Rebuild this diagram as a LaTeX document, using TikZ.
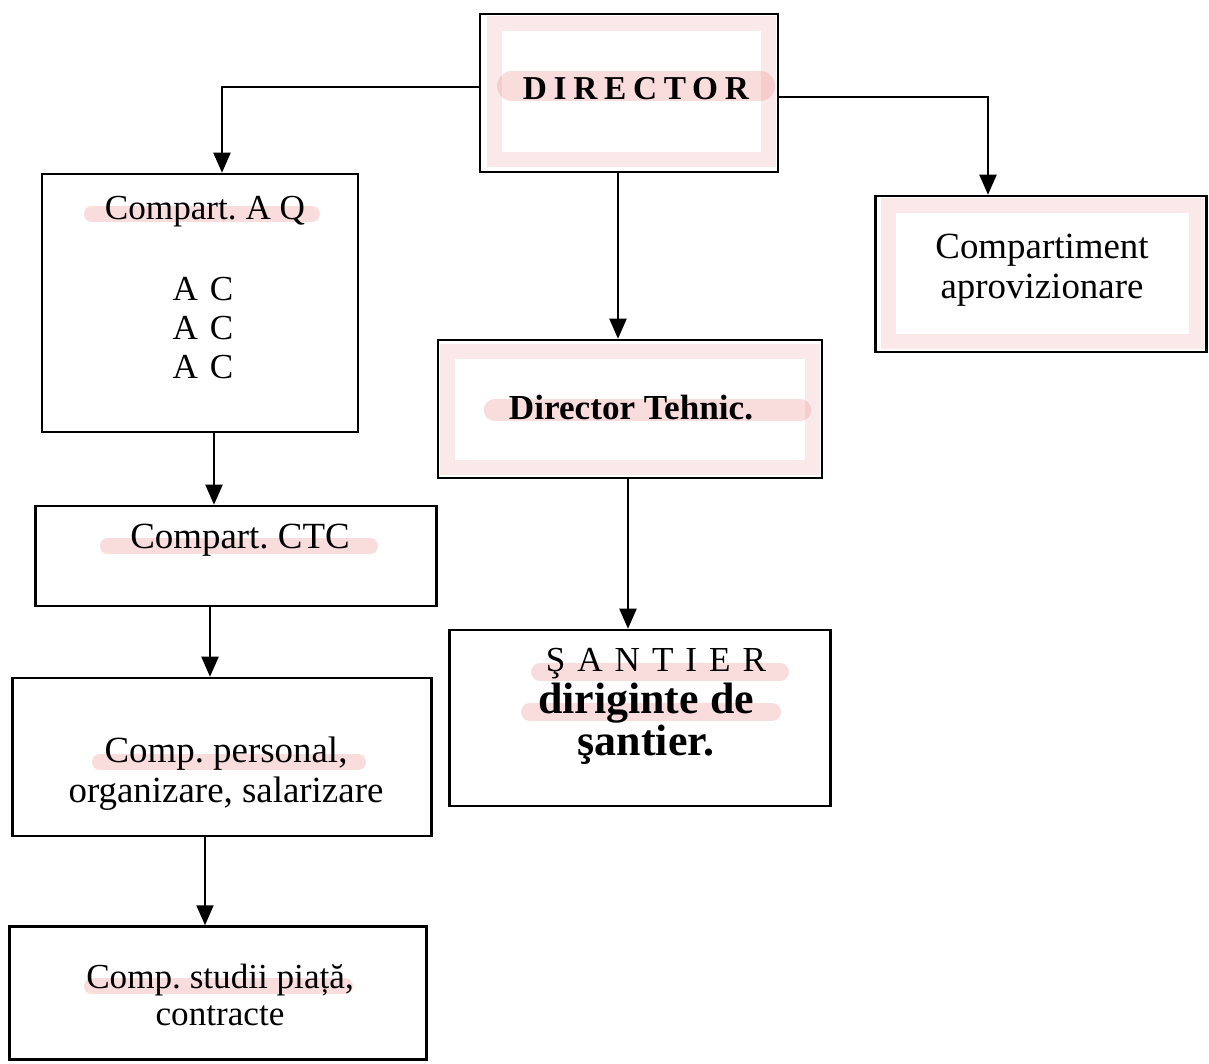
\documentclass[tikz,border=0pt]{standalone}
\usepackage{fontspec}
\setmainfont{Liberation Serif}
\usepackage{tikz}
\usetikzlibrary{arrows.meta}
\definecolor{hilite}{RGB}{236,140,140}
\frenchspacing

\tikzset{
  box/.style={draw, line width=0.5mm, rectangle, inner sep=0pt},
  txt/.style={font=\fontsize{20}{22}\selectfont, align=center, inner sep=0pt},
  pen/.style={hilite, opacity=0.3, line cap=round},
}

\begin{document}
\begin{tikzpicture}[x=0.2mm, y=-0.2mm, line width=0.4mm,
    >={Triangle[length=4mm, width=3.4mm]}]
    \useasboundingbox (0,0) rectangle (1209,1064);

    % marker strokes from the scan
    \draw[pen, opacity=0.2, line width=3mm] (494,24) -- (768,24) -- (768,160) -- (494,160) -- cycle;
    \draw[pen, line width=6mm] (512,86) -- (760,86);
    \draw[pen, line width=3.2mm] (92,214) -- (312,214);
    \draw[pen, opacity=0.2, line width=3mm] (888,206) -- (1196,206) -- (1196,342) -- (888,342) -- cycle;
    \draw[pen, opacity=0.2, line width=3mm] (447,352) -- (812,352) -- (812,468) -- (447,468) -- cycle;
    \draw[pen, line width=4.5mm] (495,410) -- (800,410);
    \draw[pen, line width=3.2mm] (108,546) -- (370,546);
    \draw[pen, line width=3.6mm] (540,672) -- (780,672);
    \draw[pen, line width=3.6mm] (530,712) -- (772,712);
    \draw[pen, line width=3.2mm] (100,762) -- (358,762);
    \draw[pen, line width=3.2mm] (92,986) -- (345,986);

    % boxes
    \node[box, minimum width=59.6mm, minimum height=31.6mm] (dir) at (629,93) {};
    \node[txt, font=\fontsize{19}{22}\selectfont\bfseries\addfontfeatures{LetterSpace=20}] (dirt) at (636,89) {DIRECTOR};

    \node[box, minimum width=63.2mm, minimum height=51.6mm] (aq) at (200,303) {};
    \node[txt] (aqt) at (205,212) {Compart. A Q};
    \node[txt] (aqac) at (203,328) {A\,\,C\\A\,\,C\\A\,\,C};

    \node[box, minimum width=66.2mm, minimum height=31.2mm] (apro) at (1041,274) {};
    \node[txt, font=\fontsize{21}{22.7}\selectfont] (aprot) at (1042,270) {Compartiment\\aprovizionare};

    \node[box, minimum width=76.8mm, minimum height=27.6mm] (tech) at (630,409) {};
    \node[txt, font=\fontsize{20}{22}\selectfont\bfseries] (techt) at (631,408) {Director Tehnic.};

    \node[box, minimum width=80.2mm, minimum height=20mm] (ctc) at (236,556) {};
    \node[txt, font=\fontsize{21}{22}\selectfont] (ctct) at (240,540) {Compart. CTC};

    \node[box, minimum width=76.2mm, minimum height=35.2mm] (sant) at (640,718) {};
    \node[txt, font=\fontsize{20}{22}\selectfont\addfontfeatures{LetterSpace=34}] (santa) at (656,664) {ŞANTIER};
    \node[txt, font=\fontsize{25}{22.2}\selectfont\bfseries] (santb) at (646,724) {diriginte de\\şantier.};

    \node[box, minimum width=83.8mm, minimum height=31.6mm] (pers) at (222,757) {};
    \node[txt, font=\fontsize{21}{22.7}\selectfont] (perst) at (226,774) {Comp. personal,\\organizare, salarizare};

    \node[box, minimum width=83.4mm, minimum height=26.6mm] (stud) at (218,993) {};
    \node[txt, font=\fontsize{20}{21}\selectfont] (studt) at (220,995) {Comp. studii piață,\\contracte};

    % connectors
    \draw[->] ([yshift=1.2mm]dir.west) -| ([xshift=4.4mm]aq.north);
    \draw[->] ([yshift=-0.8mm]dir.east) -| ([xshift=-10.6mm]apro.north);
    \draw[->] ([xshift=-2.4mm]tech.north |- dir.south) -- ([xshift=-2.4mm]tech.north);
    \draw[->] ([xshift=-0.4mm]tech.south) -- ([xshift=-0.4mm]tech.south |- sant.north);
    \draw[->] ([xshift=2.8mm]aq.south) -- ([xshift=2.8mm]aq.south |- ctc.north);
    \draw[->] ([xshift=-5.2mm]ctc.south) -- ([xshift=-5.2mm]ctc.south |- pers.north);
    \draw[->] ([xshift=-3.4mm]pers.south) -- ([xshift=-3.4mm]pers.south |- stud.north);
\end{tikzpicture}
\end{document}
